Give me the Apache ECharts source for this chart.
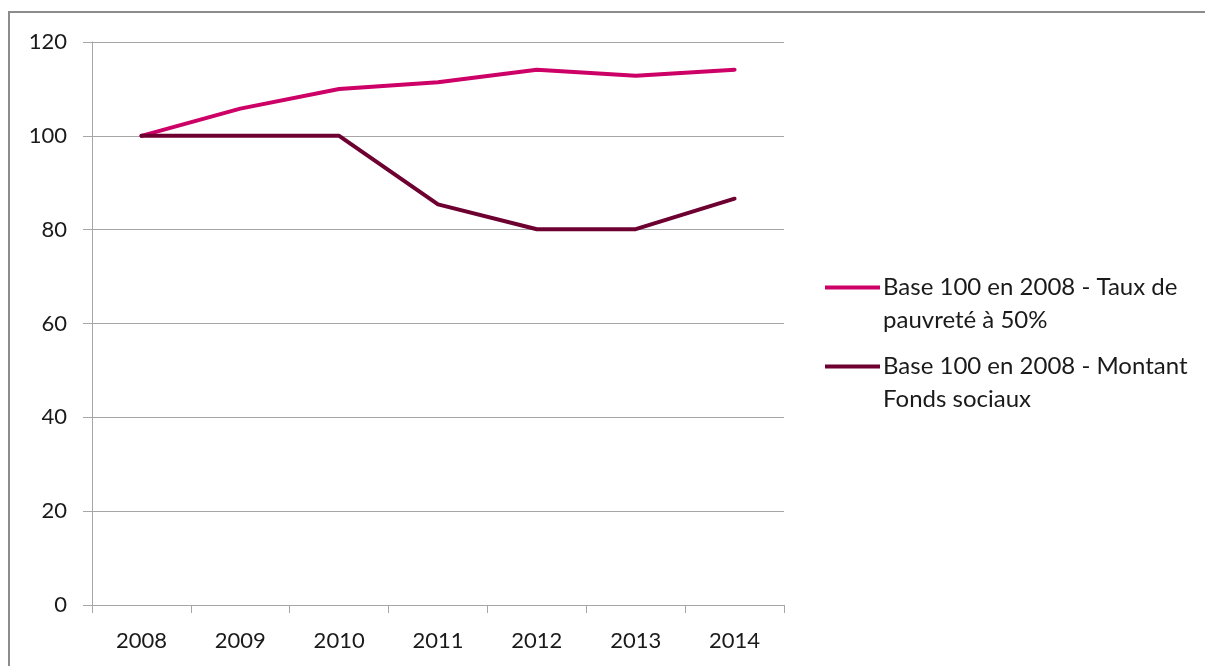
<!DOCTYPE html>
<html>
<head>
<meta charset="utf-8">
<script src="https://cdn.jsdelivr.net/npm/echarts@6/dist/echarts.min.js"></script>
<style>
html,body{margin:0;padding:0;background:#fff;}
#chart{width:1205px;height:666px;}
</style>
</head>
<body>
<div id="chart"></div>
<script>
const categories = ['2008','2009','2010','2011','2012','2013','2014'];
const seriesNames = ['Base 100 en 2008 - Taux de\npauvreté à 50%', 'Base 100 en 2008 - Montant\nFonds sociaux'];
const tauxPauvrete = [100, 105.8, 110.0, 111.4, 114.1, 112.8, 114.1];
const fondsSociaux = [100, 100, 100, 85.4, 80.1, 80.1, 86.6];
const yTicks = [0, 20, 40, 60, 80, 100, 120];

const FONT = 'Lato';
const legendIcon = 'path://M0 0h0.01v0.01h-0.01Z M0 14.5H55V18.5H0Z M0 65.99h0.01v0.01h-0.01Z';

const chart = echarts.init(document.getElementById('chart'), null, {renderer:'canvas'});
chart.setOption({
  backgroundColor: '#ffffff',
  animation: false,
  textStyle: {fontFamily: FONT},
  graphic: [{
    type: 'rect', z: -1, silent: true,
    shape: {x: 9, y: 12, width: 1300, height: 800},
    style: {fill: 'none', stroke: '#8c8c8c', lineWidth: 2}
  }],
  grid: {left: 92, top: 42, right: 421, bottom: 61, containLabel: false},
  legend: {
    orient: 'vertical', left: 825, top: 271, padding: 0,
    itemWidth: 55, itemHeight: 66, itemGap: 13,
    icon: legendIcon,
    textStyle: {fontFamily: FONT, fontSize: 24, color: '#1a1a1a', lineHeight: 33, padding: [0,0,0,-2]},
    data: seriesNames
  },
  xAxis: {
    type: 'category', data: categories, boundaryGap: true,
    axisLine: {lineStyle: {color: '#a6a6a6', width: 1}},
    axisTick: {show: true, length: 8, interval: 0, lineStyle: {color: '#a6a6a6'}},
    axisLabel: {fontFamily: FONT, fontSize: 22, color: '#1a1a1a', margin: 25}
  },
  yAxis: {
    type: 'value', min: yTicks[0], max: yTicks[yTicks.length-1], interval: 20,
    axisLine: {show: true, lineStyle: {color: '#a6a6a6', width: 1}},
    axisTick: {show: true, length: 9, lineStyle: {color: '#a6a6a6'}},
    axisLabel: {fontFamily: FONT, fontSize: 22, color: '#1a1a1a', margin: 25},
    splitLine: {show: true, lineStyle: {color: '#a6a6a6', width: 1}}
  },
  series: [
    {name: seriesNames[0], type: 'line', data: tauxPauvrete, symbol: 'none',
     lineStyle: {color: '#cc0066', width: 4, cap: 'round', join: 'round'}, itemStyle: {color: '#cc0066'}},
    {name: seriesNames[1], type: 'line', data: fondsSociaux, symbol: 'none',
     lineStyle: {color: '#6d0030', width: 4, cap: 'round', join: 'round'}, itemStyle: {color: '#6d0030'}}
  ]
});
</script>
</body>
</html>
